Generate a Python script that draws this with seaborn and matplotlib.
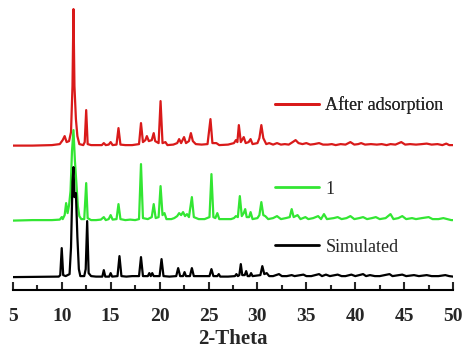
#!/usr/bin/env python3
"""
PXRD comparison: simulated pattern, as-made sample 1, and after adsorption.
"""
import numpy as np
import pandas as pd
import matplotlib
matplotlib.use("Agg")
import matplotlib.pyplot as plt
import seaborn as sns
from matplotlib.lines import Line2D

sns.set_style("white")
plt.rcParams["font.family"] = ["Liberation Serif", "DejaVu Serif"]

# --- data (intensity in arbitrary units above each baseline) ---
sim_2theta = [5.0, 9.7, 9.85, 10.0, 10.15, 10.4, 10.8, 10.95, 11.1, 11.2, 11.3, 11.45, 11.6, 11.75,
              11.9, 12.3, 12.45, 12.6, 12.75, 13.0, 13.5, 14.15, 14.3, 14.45, 14.85, 15.0, 15.15,
              15.7, 15.9, 16.1, 16.6, 17.2, 17.9, 18.1, 18.3, 18.8, 18.95, 19.1, 19.25, 19.4, 20.0,
              20.2, 20.4, 21.0, 21.7, 21.9, 22.1, 22.4, 22.55, 22.7, 23.1, 23.3, 23.5, 24.2, 25.1,
              25.3, 25.5, 25.9, 26.05, 26.2, 27.0, 27.7, 27.85, 28.0, 28.15, 28.3, 28.45, 28.7,
              28.85, 29.0, 29.2, 29.35, 29.5, 30.3, 30.5, 30.7, 30.95, 31.2, 31.6, 32.2, 32.5,
              33.0, 33.5, 33.8, 34.7, 35.0, 35.5, 36.3, 36.6, 37.0, 37.4, 38.2, 38.6, 39.0, 39.6,
              40.0, 40.8, 41.1, 41.5, 42.0, 42.5, 43.5, 43.8, 44.8, 45.2, 46.0, 46.5, 47.3, 47.8,
              48.5, 49.2, 49.6, 50.0]
sim_int = [0, 0.5, 2, 29, 2, 1, 3, 30, 95, 110, 80, 84, 40, 8,
           1, 1, 8, 56, 4, 1, 0.5, 0.5, 7, 0.5, 0.5, 4, 0.5,
           1, 21, 1, 0.5, 1, 1, 20, 1, 1, 4, 1, 4, 1, 1,
           18, 1, 0.5, 1, 9, 1, 1, 5, 1, 1, 9, 1, 1, 1,
           8, 1, 1, 3, 0.5, 0.5, 1, 3, 1, 2, 13, 2, 2,
           6, 1, 1, 4, 1, 2, 11, 3, 4, 1, 1, 3, 1,
           1, 2, 1, 2.5, 1, 1, 3, 1, 2.5, 1, 2.5, 1, 1, 2.5,
           1, 3, 1, 2, 1, 1, 3, 1, 2.5, 1, 2, 1, 2, 1,
           1, 2, 1, 0.5]

s1_2theta = [5.0, 7.0, 9.0, 9.8, 10.0, 10.1, 10.3, 10.45, 10.6, 10.75, 10.9, 11.05, 11.2, 11.35,
             11.5, 11.65, 11.8, 12.0, 12.3, 12.5, 12.65, 13.0, 13.5, 14.0, 14.3, 14.5, 14.8, 15.0,
             15.2, 15.6, 15.8, 16.0, 16.5, 17.0, 17.5, 17.9, 18.1, 18.3, 18.8, 19.2, 19.4, 19.6,
             19.9, 20.1, 20.3, 20.5, 20.7, 21.2, 21.5, 21.8, 22.0, 22.2, 22.4, 22.6, 22.8, 23.0,
             23.3, 23.5, 24.0, 24.6, 25.1, 25.3, 25.5, 25.7, 25.9, 26.1, 26.7, 27.3, 27.6, 27.8,
             28.0, 28.2, 28.4, 28.6, 28.75, 28.9, 29.15, 29.3, 29.5, 30.0, 30.2, 30.4, 30.6, 30.8,
             31.1, 31.6, 32.0, 32.4, 32.9, 33.3, 33.5, 33.7, 34.1, 34.4, 34.9, 35.2, 35.7, 36.2,
             36.5, 36.8, 37.1, 37.8, 38.2, 38.6, 39.1, 39.5, 39.9, 40.4, 40.8, 41.2, 41.7, 42.1,
             42.5, 43.1, 43.6, 43.9, 44.4, 44.8, 45.2, 45.8, 46.2, 46.8, 47.5, 47.9, 48.5, 49.0,
             49.4, 49.8, 50.0]
s1_int = [0.5, 1, 1, 1.5, 4, 2, 6, 18, 8, 16, 30, 70, 91, 60,
          38, 15, 5, 2, 2, 38, 3, 1, 1, 1.5, 4, 1, 2, 6,
          1.5, 2, 17, 2, 1, 1.5, 1, 2, 57, 3, 2, 4, 17, 3,
          4, 35, 6, 8, 2, 2, 3, 5, 8, 6, 9, 5, 7, 4,
          24, 4, 2, 2, 4, 47, 4, 3, 8, 2, 2, 2, 3, 5,
          4, 25, 5, 8, 12, 4, 4, 9, 2, 3, 6, 19, 6, 5,
          2, 3, 5, 2, 3, 4, 12, 4, 6, 2, 4, 2, 3, 5,
          2, 7, 2, 3, 4, 2, 3, 5, 2, 3, 4, 2, 3, 4,
          2, 3, 7, 2, 3, 5, 2, 3, 2, 3, 4, 2, 2, 3,
          2, 1, 1]

ads_2theta = [5.0, 7.0, 9.0, 9.8, 10.1, 10.3, 10.5, 10.75, 10.95, 11.1, 11.2, 11.3, 11.45, 11.6,
              11.8, 12.2, 12.35, 12.5, 12.65, 13.0, 13.5, 14.1, 14.3, 14.5, 14.8, 15.0, 15.2,
              15.6, 15.8, 16.0, 16.5, 17.2, 17.9, 18.1, 18.3, 18.55, 18.7, 18.9, 19.2, 19.4,
              19.55, 19.9, 20.1, 20.3, 20.6, 20.8, 21.4, 21.8, 22.0, 22.2, 22.5, 22.7, 23.0,
              23.2, 23.4, 23.7, 24.3, 24.9, 25.2, 25.4, 25.8, 26.1, 27.0, 27.6, 27.8, 27.95,
              28.1, 28.3, 28.6, 28.8, 29.1, 29.3, 29.5, 30.0, 30.2, 30.4, 30.6, 30.9, 31.2,
              31.6, 32.0, 32.4, 32.8, 33.2, 33.6, 33.9, 34.2, 34.6, 35.0, 35.4, 35.8, 36.3,
              36.7, 37.2, 37.6, 38.0, 38.5, 39.0, 39.5, 39.9, 40.3, 40.6, 41.0, 41.6, 42.2,
              42.7, 43.2, 43.6, 44.1, 44.7, 45.1, 45.6, 46.2, 46.8, 47.3, 47.8, 48.4, 48.9,
              49.3, 49.6, 50.0]
ads_int = [0.5, 0.5, 1, 2, 6, 10, 4, 5, 14, 60, 137, 60, 27, 10,
           2, 1, 4, 36, 2, 1, 1, 1, 3, 1, 1.5, 4, 1,
           1.5, 18, 1.5, 1, 1, 2, 23, 4, 6, 10, 5, 6, 13,
           5, 3, 45, 3, 4, 1, 1.5, 3, 7, 3, 9, 3, 5,
           13, 5, 2, 1.5, 2, 27, 3, 3, 1, 1.5, 3, 6, 4,
           21, 4, 9, 3, 4, 7, 2, 3, 8, 21, 8, 2, 3,
           1.5, 3, 1.5, 2, 1.5, 4, 6, 3, 2, 3, 1.5, 2, 3,
           1.5, 1.5, 2, 1, 2, 1.5, 4, 1.5, 2, 3, 1.5, 2, 1.5,
           2, 1, 2, 1.5, 4, 1.5, 2, 1.5, 2, 2.5, 1.5, 2, 1,
           2.5, 1, 1]

labels = ["Simulated", "1", "After adsorption"]
colors = ["#000000", "#33e633", "#d91a1a"]
offsets = [13, 69, 144]

series = [(sim_2theta, sim_int), (s1_2theta, s1_int), (ads_2theta, ads_int)]

fig = plt.figure(figsize=(4.74, 3.64), dpi=100)
ax = fig.add_axes([0.027, 0.203, 0.929, 0.783])

# red first, black last (black sits on top like the reference)
for i in [2, 1, 0]:
    x, y = series[i]
    df = pd.DataFrame({"two_theta": x, "intensity": np.array(y) + offsets[i]})
    sns.lineplot(data=df, x="two_theta", y="intensity", color=colors[i], linewidth=1.6,
                 estimator=None, sort=False, legend=False, ax=ax)

ax.set_xlim(5, 50)
ax.set_ylim(0, 285)
ax.set_xticks(np.arange(5, 51, 5))
ax.set_xticks(np.arange(7.5, 50, 5), minor=True)
ax.set_yticks([])
ax.set_ylabel("")
ax.set_xlabel("2-Theta", fontsize=15, fontweight="bold", labelpad=3)

for side in ["left", "top", "right"]:
    ax.spines[side].set_visible(False)
ax.spines["bottom"].set_linewidth(1.5)
ax.spines["bottom"].set_color("black")
ax.tick_params(axis="x", which="major", direction="in", length=6, width=1.5, pad=13,
               labelsize=14, bottom=True)
ax.tick_params(axis="x", which="minor", direction="in", length=3.5, width=1.5, bottom=True)
for t in ax.get_xticklabels():
    t.set_fontweight("bold")

# legend entries placed next to each trace
legend_y = [0.151, 0.354, 0.649]
for i in range(3):
    h = Line2D([], [], color=colors[i], linewidth=2)
    leg = ax.legend([h], [labels[i]], loc="center left", bbox_to_anchor=(0.595, legend_y[i]),
                    frameon=False, borderpad=0, borderaxespad=0, handlelength=2.45,
                    handletextpad=0.35, fontsize=13)
    ax.add_artist(leg)

fig.savefig("out.png", dpi=100)
plt.close(fig)
